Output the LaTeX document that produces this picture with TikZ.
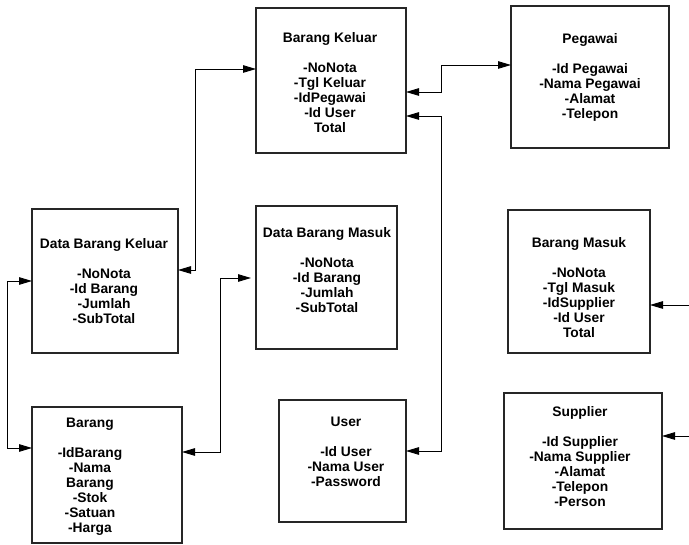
\documentclass[tikz,border=0pt]{standalone}
\usepackage{fontspec}
\setmainfont{Liberation Sans}
\usetikzlibrary{arrows.meta}
\begin{document}
\begin{tikzpicture}[x=1pt,y=-1pt,
  entity/.style={draw=black!85, line width=1.1pt, inner sep=0pt, outer sep=0pt},
  fields/.style={anchor=north, align=center, inner sep=0pt,
    font=\fontsize{13.8}{15}\selectfont\bfseries},
  link/.style={line width=0.9pt, {Triangle[length=13pt,width=7.5pt]}-{Triangle[length=13pt,width=7.5pt]}},
  inlink/.style={line width=0.9pt, -{Triangle[length=13pt,width=7.5pt]}}]
\useasboundingbox (0,0) rectangle (689,545);

% entity boxes
\node[entity, minimum width=150pt, minimum height=145pt] (bk)  at (331,80.5) {};
\node[entity, minimum width=158pt, minimum height=142pt] (peg) at (590,77) {};
\node[entity, minimum width=146pt, minimum height=144pt] (dbk) at (105,281) {};
\node[entity, minimum width=141pt, minimum height=143pt] (dbm) at (326.5,277.5) {};
\node[entity, minimum width=142pt, minimum height=143pt] (bm)  at (579,281.5) {};
\node[entity, minimum width=158pt, minimum height=136pt] (sup) at (583,461) {};
\node[entity, minimum width=127pt, minimum height=122pt] (usr) at (342.5,461) {};
\node[entity, minimum width=150pt, minimum height=136pt] (brg) at (107,475) {};

% field lists
\node[fields] (bkt)  at (330,32)  {Barang Keluar\\[15pt]-NoNota\\-Tgl Keluar\\-IdPegawai\\-Id User\\Total};
\node[fields] (pegt) at (590,33)  {Pegawai\\[15pt]-Id Pegawai\\-Nama Pegawai\\-Alamat\\-Telepon};
\node[fields] (dbkt) at (104,238) {Data Barang Keluar\\[15pt]-NoNota\\-Id Barang\\-Jumlah\\-SubTotal};
\node[fields] (dbmt) at (327,227) {Data Barang Masuk\\[15pt]-NoNota\\-Id Barang\\-Jumlah\\-SubTotal};
\node[fields] (bmt)  at (579,237) {Barang Masuk\\[15pt]-NoNota\\-Tgl Masuk\\-IdSupplier\\-Id User\\Total};
\node[fields] (supt) at (580,406) {Supplier\\[15pt]-Id Supplier\\-Nama Supplier\\-Alamat\\-Telepon\\-Person};
\node[fields] (usrt) at (346,417) {User\\[15pt]-Id User\\-Nama User\\-Password};
\node[fields] (brgt) at (90,418)  {Barang\\[15pt]-IdBarang\\-Nama\\Barang\\-Stok\\-Satuan\\-Harga};

% bend points of the connectors
\coordinate (j1a) at (195,270);
\coordinate (j1b) at (195,69);
\coordinate (j2a) at (7,281);
\coordinate (j2b) at (7,448);
\coordinate (j3a) at (220,452);
\coordinate (j3b) at (220,278);
\coordinate (j4a) at (441,92);
\coordinate (j4b) at (441,65);
\coordinate (j5a) at (441,116);
\coordinate (j5b) at (441,451);
\coordinate (e6) at (689,305);
\coordinate (e7) at (689,436);

% relations
\draw[link] (dbk.east |- j1a) -- (j1a) -- (j1b) -- (bk.west |- j1b);
\draw[link] (dbk.west |- j2a) -- (j2a) -- (j2b) -- (brg.west |- j2b);
\draw[link, shorten >=5pt] (brg.east |- j3a) -- (j3a) -- (j3b) -- (dbm.west |- j3b);
\draw[link] (bk.east |- j4a) -- (j4a) -- (j4b) -- (peg.west |- j4b);
\draw[link] (bk.east |- j5a) -- (j5a) -- (j5b) -- (usr.east |- j5b);
\draw[inlink] (e6) -- (bm.east |- e6);
\draw[inlink] (e7) -- (sup.east |- e7);
\end{tikzpicture}
\end{document}
